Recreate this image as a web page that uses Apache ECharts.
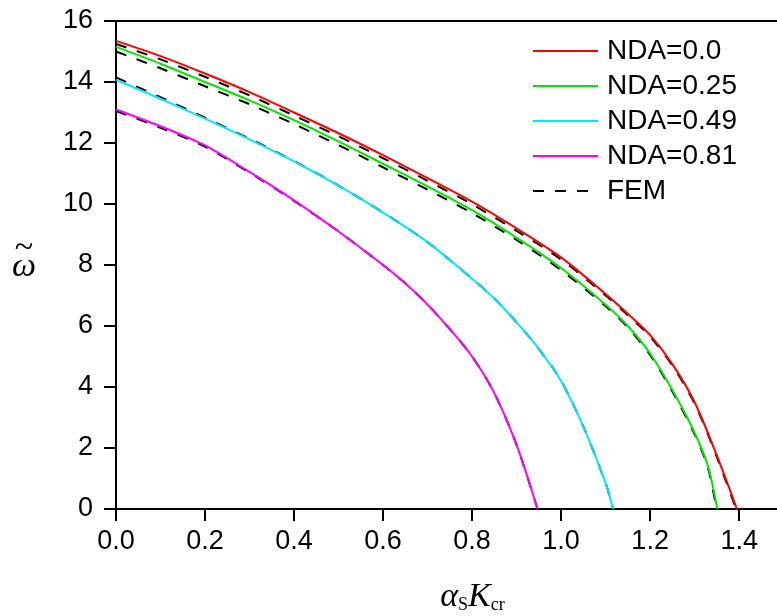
<!DOCTYPE html>
<html>
<head>
<meta charset="utf-8">
<script src="https://cdn.jsdelivr.net/npm/echarts@6/dist/echarts.min.js"></script>
<style>
html, body { margin: 0; padding: 0; background: #fff; }
#chart { width: 777px; height: 616px; }
</style>
</head>
<body>
<div id="chart"></div>
<script>
// values: [alpha_S*K_cr, omega]
var nda00 = [[0, 15.35], [0.1, 14.85], [0.2, 14.28], [0.3, 13.67], [0.4, 13.0], [0.5, 12.32], [0.6, 11.6], [0.7, 10.85], [0.8, 10.08], [0.9, 9.2], [1.0, 8.25], [1.1, 7.05], [1.15, 6.4], [1.2, 5.7], [1.25, 4.75], [1.3, 3.5], [1.35, 1.75], [1.395, 0]];
var nda025 = [[0, 15.15], [0.1, 14.6], [0.2, 14.0], [0.3, 13.4], [0.4, 12.75], [0.5, 12.05], [0.6, 11.32], [0.7, 10.58], [0.8, 9.8], [0.9, 8.9], [1.0, 7.9], [1.1, 6.7], [1.15, 6.0], [1.2, 5.1], [1.25, 3.9], [1.3, 2.5], [1.33, 1.4], [1.351, 0]];
var nda049 = [[0, 14.07], [0.1, 13.45], [0.2, 12.8], [0.3, 12.12], [0.4, 11.4], [0.5, 10.6], [0.6, 9.72], [0.7, 8.75], [0.8, 7.55], [0.85, 6.9], [0.9, 6.12], [0.95, 5.25], [1.0, 4.2], [1.05, 2.7], [1.1, 0.85], [1.117, 0]];
var nda081 = [[0, 13.1], [0.1, 12.55], [0.2, 11.92], [0.3, 11.05], [0.4, 10.12], [0.5, 9.1], [0.6, 8.0], [0.65, 7.4], [0.7, 6.7], [0.75, 5.9], [0.8, 5.0], [0.85, 3.8], [0.9, 2.1], [0.947, 0]];

var fem00 = [[0, 15.25], [0.1, 14.74], [0.2, 14.17], [0.3, 13.56], [0.4, 12.9], [0.5, 12.22], [0.6, 11.5], [0.7, 10.76], [0.8, 9.99], [0.9, 9.12], [1.0, 8.18], [1.1, 7.0], [1.15, 6.35], [1.2, 5.65], [1.25, 4.7], [1.3, 3.45], [1.35, 1.7], [1.393, 0]];
var fem025 = [[0, 15.0], [0.1, 14.45], [0.2, 13.86], [0.3, 13.27], [0.4, 12.62], [0.5, 11.93], [0.6, 11.2], [0.7, 10.47], [0.8, 9.7], [0.9, 8.82], [1.0, 7.83], [1.1, 6.65], [1.15, 5.95], [1.2, 5.05], [1.25, 3.85], [1.3, 2.45], [1.33, 1.35], [1.349, 0]];
var fem049 = [[0, 14.15], [0.1, 13.5], [0.2, 12.83], [0.3, 12.14], [0.4, 11.41], [0.5, 10.6], [0.6, 9.72], [0.7, 8.75], [0.8, 7.55], [0.85, 6.9], [0.9, 6.12], [0.95, 5.25], [1.0, 4.2], [1.05, 2.7], [1.1, 0.85], [1.117, 0]];
var fem081 = [[0, 13.05], [0.1, 12.5], [0.2, 11.88], [0.3, 11.03], [0.4, 10.1], [0.5, 9.1], [0.6, 8.0], [0.65, 7.4], [0.7, 6.7], [0.75, 5.9], [0.8, 5.0], [0.85, 3.8], [0.9, 2.1], [0.947, 0]];

var seriesNames = ['NDA=0.0', 'NDA=0.25', 'NDA=0.49', 'NDA=0.81'];
var seriesData = [nda00, nda025, nda049, nda081];
var femData = [fem00, fem025, fem049, fem081];
var colors = ['#ff0000', '#00e600', '#00e8ff', '#ff00ff'];

var myChart = echarts.init(document.getElementById('chart'));
var series = [];

for (var i = 0; i < femData.length; i++) {
	series.push({
		name: 'FEM',
		type: 'line',
		symbol: 'none',
		smooth: 0.3,
		data: femData[i],
		z: 2,
		lineStyle: { color: '#000', width: 2, type: [11, 11] },
		itemStyle: { color: '#000' }
	});
}
for (var j = 0; j < seriesData.length; j++) {
	series.push({
		name: seriesNames[j],
		type: 'line',
		symbol: 'none',
		smooth: 0.3,
		data: seriesData[j],
		z: 3,
		lineStyle: { color: colors[j], width: 2 },
		itemStyle: { color: colors[j] }
	});
}

var axisFont = 'Liberation Sans, Arial, sans-serif';
var mathFont = 'Liberation Serif, Times New Roman, serif';

var option = {
	backgroundColor: '#fff',
	animation: false,
	grid: { left: 116, top: 21, right: 0, bottom: 107, outerBoundsMode: 'none' },
	legend: {
		orient: 'vertical',
		left: 527,
		top: 32,
		itemWidth: 65,
		itemHeight: 14,
		itemGap: 7,
		// hide the marker dot, keep only the line
		itemStyle: { color: 'rgba(0,0,0,0)', borderWidth: 0, opacity: 0 },
		data: ['NDA=0.0', 'NDA=0.25', 'NDA=0.49', 'NDA=0.81', 'FEM'],
		textStyle: { fontFamily: axisFont, fontSize: 28, color: '#000', lineHeight: 28, padding: [0, 0, 0, 4] }
	},
	xAxis: [
		{
			type: 'value',
			min: 0,
			max: 1.485,
			interval: 0.2,
			position: 'bottom',
			splitLine: { show: false },
			axisLine: { lineStyle: { color: '#000', width: 2 } },
			axisTick: { length: 12, lineStyle: { color: '#000', width: 2 } },
			axisLabel: {
				margin: 19,
				showMaxLabel: false,
				fontFamily: axisFont,
				fontSize: 27,
				color: '#000',
				formatter: function (v) { return v.toFixed(1); }
			},
			name: '{a|α}{s|S}{k|K}{c|cr}',
			nameLocation: 'middle',
			nameGap: 71,
			nameTextStyle: {
				padding: [0, 0, 0, 52],
				rich: {
					a: { fontFamily: mathFont, fontStyle: 'italic', fontSize: 34, lineHeight: 34, verticalAlign: 'bottom', color: '#000' },
					s: { fontFamily: mathFont, fontSize: 18, lineHeight: 20, verticalAlign: 'bottom', color: '#000' },
					k: { fontFamily: mathFont, fontStyle: 'italic', fontSize: 34, lineHeight: 34, verticalAlign: 'bottom', color: '#000' },
					c: { fontFamily: mathFont, fontSize: 18, lineHeight: 20, verticalAlign: 'bottom', color: '#000' }
				}
			}
		},
		{
			type: 'value',
			min: 0,
			max: 1.485,
			position: 'top',
			splitLine: { show: false },
			axisLine: { onZero: false, lineStyle: { color: '#000', width: 2 } },
			axisTick: { show: false },
			axisLabel: { show: false }
		}
	],
	yAxis: {
		type: 'value',
		min: 0,
		max: 16,
		interval: 2,
		splitLine: { show: false },
		axisLine: { show: true, lineStyle: { color: '#000', width: 2 } },
		axisTick: { show: true, length: 12, lineStyle: { color: '#000', width: 2 } },
		axisLabel: { margin: 23, fontFamily: axisFont, fontSize: 27, color: '#000' },
		name: '{t|~}\n{w|ω}',
		nameLocation: 'middle',
		nameRotate: 0,
		nameGap: 80,
		nameTextStyle: {
			padding: [0, 0, 8, 0],
			rich: {
				t: { fontFamily: mathFont, fontSize: 34, lineHeight: 12, align: 'center', color: '#000' },
				w: { fontFamily: mathFont, fontStyle: 'italic', fontSize: 34, lineHeight: 26, align: 'center', color: '#000' }
			}
		}
	},
	series: series
};

myChart.setOption(option);
</script>
</body>
</html>
